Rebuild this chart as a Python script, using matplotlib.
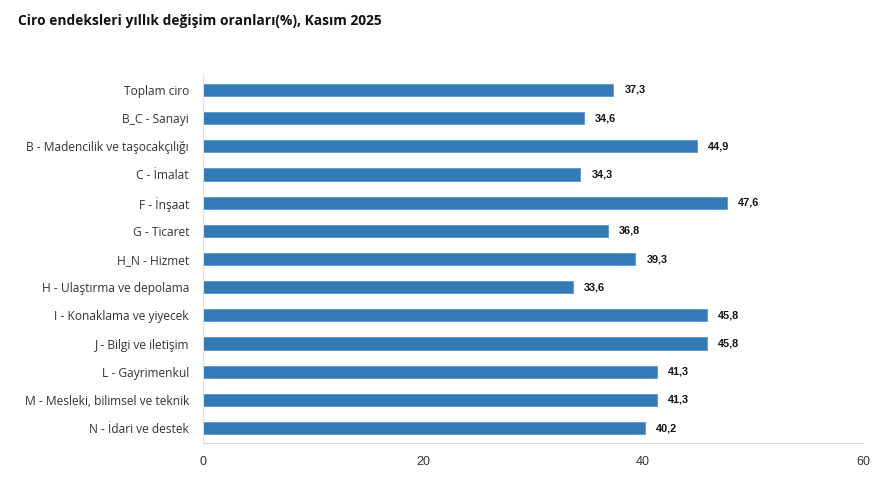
import matplotlib.pyplot as plt

categories = [
    "Toplam ciro",
    "B_C - Sanayi",
    "B - Madencilik ve taşocakçılığı",
    "C - İmalat",
    "F - İnşaat",
    "G - Ticaret",
    "H_N - Hizmet",
    "H - Ulaştırma ve depolama",
    "I - Konaklama ve yiyecek",
    "J - Bilgi ve iletişim",
    "L - Gayrimenkul",
    "M - Mesleki, bilimsel ve teknik",
    "N - İdari ve destek",
]
values = [37.3, 34.6, 44.9, 34.3, 47.6, 36.8, 39.3, 33.6, 45.8, 45.8, 41.3, 41.3, 40.2]
xticks = [0, 20, 40, 60]

fig = plt.figure(figsize=(8.89, 4.88), dpi=100)
ax = fig.add_axes([0.2283, 0.0922, 0.7425, 0.7541])

pos = list(range(len(categories)))
ax.barh(pos, values, height=0.43, color="#337ab7", edgecolor="#5c98cc", linewidth=0.6)
for p, v in zip(pos, values):
    ax.text(v + 1.0, p, f"{v:.1f}".replace(".", ","), va="center", ha="left",
            fontsize=7.8, fontweight="bold", color="#111111",
            family=["Liberation Sans", "DejaVu Sans"])

ax.set_ylim(len(categories) - 0.47, -0.53)
ax.set_xlim(0, 60)
ax.set_yticks(pos)
ax.set_yticklabels(categories, family=["Open Sans", "DejaVu Sans"], fontsize=8.65, color="#333333")
ax.set_xticks(xticks)
ax.set_xticklabels([str(t) for t in xticks], family=["Liberation Sans", "DejaVu Sans"],
                   fontsize=9, color="#333333")
ax.tick_params(axis="y", length=0, pad=10)
ax.tick_params(axis="x", length=0, pad=9.5)
for s in ["top", "right"]:
    ax.spines[s].set_visible(False)
ax.spines["left"].set_color("#e0e0e0")
ax.spines["bottom"].set_color("#d8d8d8")
ax.spines["left"].set_linewidth(0.8)
ax.spines["bottom"].set_linewidth(0.8)

fig.text(0.02, 0.957, "Ciro endeksleri yıllık değişim oranları(%), Kasım 2025",
         fontsize=9.95, fontweight="bold", color="#111111", va="center", ha="left",
         family=["Open Sans", "DejaVu Sans"])

fig.savefig("out.png", dpi=100)
